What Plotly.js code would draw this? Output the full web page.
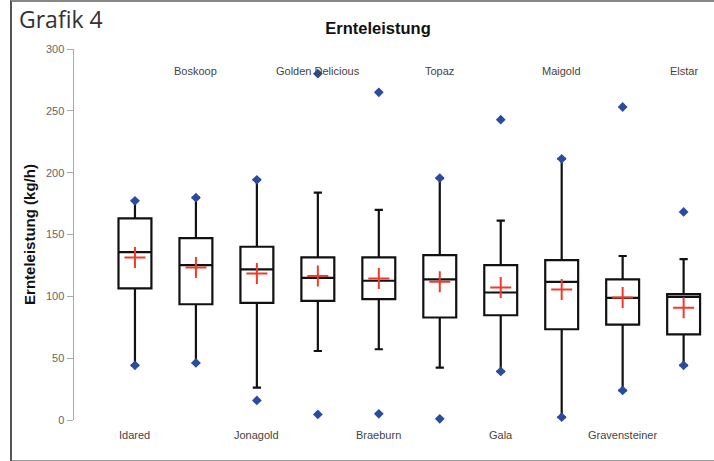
<!DOCTYPE html>
<html>
<head>
<meta charset="utf-8">
<script src="https://cdn.plot.ly/plotly-3.0.1.min.js"></script>
<style>
  html, body { margin: 0; padding: 0; background: #fff; }
  #wrap { position: relative; width: 714px; height: 461px; overflow: hidden; }
  #chart { position: absolute; left: 0; top: 0; width: 714px; height: 461px; }
  #frame { position: absolute; left: 10px; top: 0px; width: 720px; height: 458px;
           border-left: 2px solid #555; border-top: 2px solid #888; border-bottom: 3px solid #999;
           pointer-events: none; }
</style>
</head>
<body>
<div id="wrap">
  <div id="chart"></div>
  <div id="frame"></div>
</div>
<script>
// Categories (apple varieties)
var categories = ["Idared", "Boskoop", "Jonagold", "Golden Delicious", "Braeburn",
                  "Topaz", "Gala", "Maigold", "Gravensteiner", "Elstar"];
// Box statistics (kg/h)
var q1Values      = [106.4, 93.6, 94.7, 96.3, 97.7, 82.9, 84.7, 73.4, 77.2, 69.3];
var medianValues  = [135.8, 125.3, 121.8, 115.0, 112.6, 113.7, 103.1, 111.7, 98.8, 99.6];
var q3Values      = [163.0, 147.0, 140.1, 131.5, 131.5, 133.4, 125.3, 129.3, 113.7, 101.8];
var lowerWhisker  = [44.2, 46.1, 26.1, 55.8, 57.2, 42.3, 39.3, 2.3, 23.9, 44.2];
var upperWhisker  = [177.2, 179.8, 194.2, 183.9, 169.9, 195.6, 161.2, 211.2, 132.6, 130.1];
var meanValues    = [131.5, 123.4, 118.5, 116.4, 114.5, 111.7, 107.2, 105.6, 99.0, 90.7];
// Extreme values (min / max points)
var minValues     = [44.2, 46.1, 15.8, 4.5, 5.0, 1.0, 39.3, 2.3, 23.9, 44.2];
var maxValues     = [177.2, 179.8, 194.2, 280.0, 265.0, 195.6, 242.8, 211.2, 253.1, 168.2];
// Label placement
var bottomLabels  = ["Idared", "Jonagold", "Braeburn", "Gala", "Gravensteiner"];
var topLabels     = ["Boskoop", "Golden Delicious", "Topaz", "Maigold", "Elstar"];
var yTicks        = [0, 50, 100, 150, 200, 250, 300];
var yMax = 300;

var traces = [];
traces.push({
  type: "box",
  x: categories,
  q1: q1Values,
  median: medianValues,
  q3: q3Values,
  lowerfence: lowerWhisker,
  upperfence: upperWhisker,
  boxpoints: false,
  width: 0.54,
  whiskerwidth: 0.25,
  fillcolor: "rgba(255,255,255,0)",
  line: { color: "#111", width: 2.2 },
  hoverinfo: "skip",
  showlegend: false
});
traces.push({
  type: "scatter", mode: "markers",
  x: categories.concat(categories),
  y: minValues.concat(maxValues),
  marker: { symbol: "diamond", size: 7.5, color: "#2b4ba0" },
  cliponaxis: false,
  showlegend: false, hoverinfo: "skip"
});
traces.push({
  type: "scatter", mode: "markers",
  x: categories, y: meanValues,
  marker: { symbol: "cross-thin", size: 15, color: "#ee3b2b",
            line: { color: "#ee3b2b", width: 2 } },
  showlegend: false, hoverinfo: "skip"
});

var labelFont = { family: "Arial, Liberation Sans, sans-serif", size: 11, color: "#444" };
var annotations = [];
bottomLabels.forEach(function (c) {
  annotations.push({ x: c, y: -12.5 / yMax, xref: "x", yref: "paper", text: c,
    yanchor: "middle", xanchor: "center", showarrow: false, font: labelFont });
});
topLabels.forEach(function (c) {
  annotations.push({ x: c, y: 282.5 / yMax, xref: "x", yref: "paper", text: c,
    yanchor: "middle", xanchor: "center", showarrow: false, font: labelFont });
});
annotations.push({
  x: -0.09, y: 1.082, xref: "paper", yref: "paper", xanchor: "left", yanchor: "middle",
  text: "Grafik 4", showarrow: false,
  font: { family: "Open Sans, sans-serif", size: 23, color: "#333" }
});

var layout = {
  width: 714, height: 461,
  margin: { l: 74, r: 6, t: 49, b: 41 },
  paper_bgcolor: "rgba(0,0,0,0)",
  plot_bgcolor: "rgba(0,0,0,0)",
  title: { text: "<b>Ernteleistung</b>", x: 378 / 714, xref: "container", xanchor: "center",
           y: 1 - 28 / 461, yref: "container", yanchor: "middle",
           font: { family: "Arial, Liberation Sans, sans-serif", size: 16.5, color: "#111" } },
  xaxis: { type: "category", range: [-1, 9.4], visible: false, showgrid: false, zeroline: false },
  yaxis: {
    range: [0, yMax], tickvals: yTicks, ticks: "outside", ticklen: 6, tickcolor: "#aaa",
    showline: true, linecolor: "#aaa", linewidth: 1.5, showgrid: false, zeroline: false,
    tickfont: { family: "Arial, Liberation Sans, sans-serif", size: 11, color: "#666" },
    title: { text: "<b>Ernteleistung (kg/h)</b>", standoff: 6,
             font: { family: "Arial, Liberation Sans, sans-serif", size: 15, color: "#111" } }
  },
  annotations: annotations
};

Plotly.newPlot("chart", traces, layout, { staticPlot: true, displayModeBar: false });
</script>
</body>
</html>
